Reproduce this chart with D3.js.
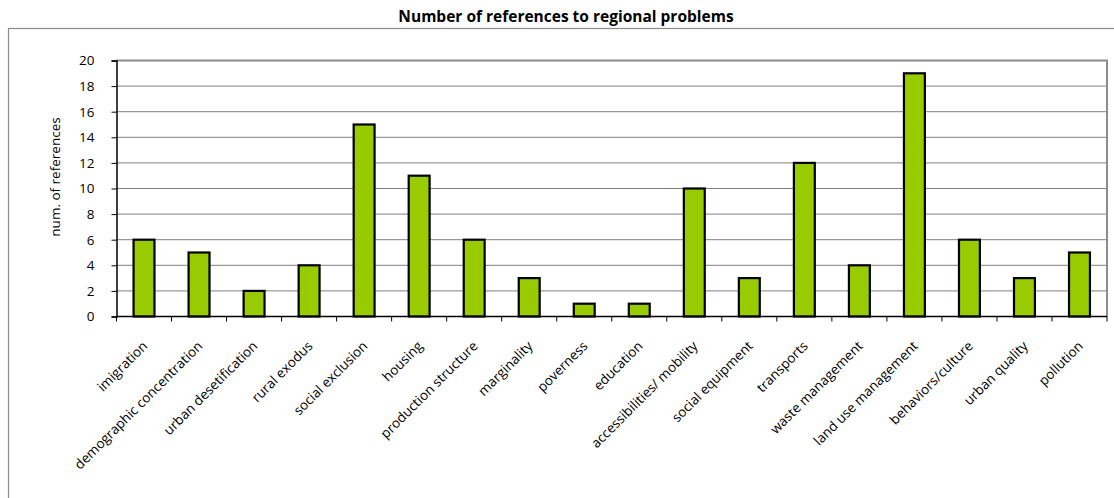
<!DOCTYPE html>
<html>
<head>
<meta charset="utf-8">
<script src="https://cdn.jsdelivr.net/npm/d3@7"></script>
<style>
  html, body { margin: 0; padding: 0; background: #fff; }
  svg { display: block; }
  text { font-family: "Open Sans", sans-serif; fill: #000; }
</style>
</head>
<body>
<svg id="chart" width="1114" height="498"></svg>
<script>
// Regional problems and how often each is referenced
const categories = [
  "imigration", "demographic concentration", "urban desetification", "rural exodus",
  "social exclusion", "housing", "production structure", "marginality", "poverness",
  "education", "accessibilities/ mobility", "social equipment", "transports",
  "waste management", "land use management", "behaviors/culture", "urban quality", "pollution"
];
const references = [6, 5, 2, 4, 15, 11, 6, 3, 1, 1, 10, 3, 12, 4, 19, 6, 3, 5];
const yTicks = [0, 2, 4, 6, 8, 10, 12, 14, 16, 18, 20];

const title = "Number of references to regional problems";
const yTitle = "num. of references";

const svg = d3.select("#chart");
const font = "'Open Sans', sans-serif";

// Chart frame
svg.append("rect")
  .attr("x", 8.5).attr("y", 28.5)
  .attr("width", 1200).attr("height", 600)
  .attr("fill", "none").attr("stroke", "#8c8c8c").attr("stroke-width", 1.2);

// Title
svg.append("text")
  .attr("x", 566).attr("y", 22)
  .attr("text-anchor", "middle")
  .attr("font-size", 15.5).attr("font-weight", "bold")
  .text(title);

const plot = { left: 116.5, right: 1107, top: 60.5, bottom: 316.5 };

const x = d3.scaleBand()
  .domain(categories)
  .range([plot.left, plot.right])
  .paddingInner(0.62)
  .paddingOuter(0.31);

const y = d3.scaleLinear()
  .domain([0, 20])
  .range([plot.bottom, plot.top]);

// Horizontal gridlines
svg.append("g")
  .selectAll("line")
  .data(yTicks.filter(d => d > 0 && d < 20))
  .join("line")
  .attr("x1", plot.left).attr("x2", plot.right)
  .attr("y1", d => y(d)).attr("y2", d => y(d))
  .attr("stroke", "#808080").attr("stroke-width", 1);

// Plot area border (top and right)
svg.append("path")
  .attr("d", `M${plot.left},${y(20)}H${plot.right}V${plot.bottom}`)
  .attr("fill", "none").attr("stroke", "#8c8c8c").attr("stroke-width", 2);

// Bars
svg.append("g")
  .selectAll("rect")
  .data(categories.map((c, i) => ({ c, v: references[i] })))
  .join("rect")
  .attr("x", d => x(d.c))
  .attr("y", d => y(d.v))
  .attr("width", x.bandwidth())
  .attr("height", d => y(0) - y(d.v))
  .attr("fill", "#99cc00")
  .attr("stroke", "#000").attr("stroke-width", 2.2);

// Y axis
const yAxis = svg.append("g")
  .attr("transform", `translate(${plot.left},0)`)
  .call(d3.axisLeft(y).tickValues(yTicks).tickSize(5).tickPadding(17).tickFormat(d3.format("d")));
yAxis.select(".domain").attr("stroke", "#000").attr("stroke-width", 1.5);
yAxis.selectAll(".tick line").attr("stroke", "#000");
yAxis.selectAll(".tick text").attr("font-size", 13.5).attr("font-family", font).attr("fill", "#000");

// X axis with ticks at the category boundaries
const step = x.step();
const boundaries = d3.range(categories.length + 1).map(i => plot.left + i * step);
svg.append("line")
  .attr("x1", plot.left).attr("x2", plot.right)
  .attr("y1", plot.bottom).attr("y2", plot.bottom)
  .attr("stroke", "#000").attr("stroke-width", 1.3);
svg.append("g")
  .selectAll("line")
  .data(boundaries)
  .join("line")
  .attr("x1", d => d).attr("x2", d => d)
  .attr("y1", plot.bottom).attr("y2", plot.bottom + 5)
  .attr("stroke", "#000").attr("stroke-width", 1);

// Category labels, rotated
svg.append("g")
  .selectAll("text")
  .data(categories)
  .join("text")
  .attr("transform", d => `translate(${x(d) + x.bandwidth() / 2 + 1},${plot.bottom + 27}) rotate(-45)`)
  .attr("text-anchor", "end")
  .attr("dy", "0.35em")
  .attr("font-size", 13.5)
  .text(d => d);

// Y axis title
svg.append("text")
  .attr("transform", `translate(60,177) rotate(-90)`)
  .attr("text-anchor", "middle")
  .attr("font-size", 13.5)
  .text(yTitle);
</script>
</body>
</html>
